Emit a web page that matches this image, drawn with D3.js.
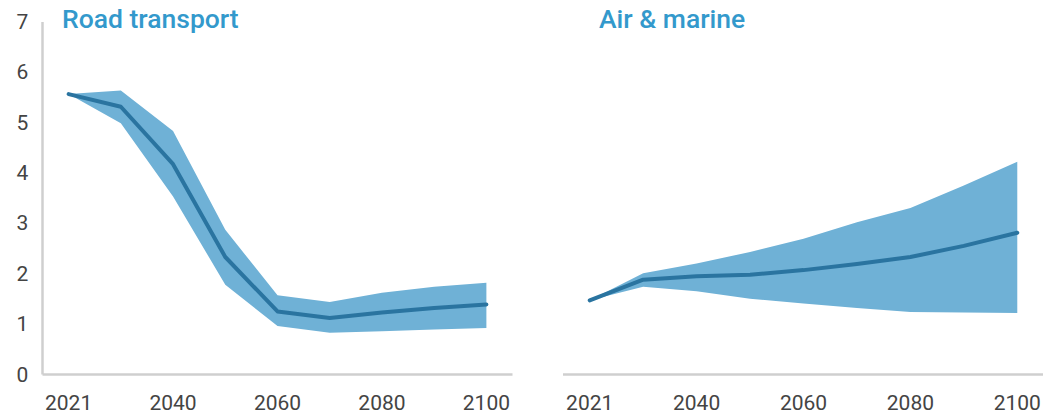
<!DOCTYPE html>
<html><head><meta charset="utf-8">
<script src="https://cdn.jsdelivr.net/npm/d3@7"></script>
<style>body{margin:0;background:#fff}svg{display:block}text{font-family:Roboto,"Open Sans",sans-serif}</style>
</head><body><svg id="c" width="1043" height="416"></svg>
<script>
const years = ["2021","2030","2040","2050","2060","2070","2080","2090","2100"];
const tickLabels = ["2021","2040","2060","2080","2100"];
const yTicks = [0,1,2,3,4,5,6,7];
const roadMid  = [5.56,5.31,4.17,2.33,1.25,1.12,1.23,1.32,1.39];
const roadHigh = [5.56,5.63,4.83,2.87,1.57,1.44,1.62,1.74,1.82];
const roadLow  = [5.56,4.98,3.53,1.78,0.96,0.83,0.86,0.89,0.92];
const airMid   = [1.47,1.88,1.95,1.98,2.07,2.19,2.33,2.55,2.81];
const airHigh  = [1.47,2.01,2.20,2.43,2.69,3.02,3.30,3.75,4.22];
const airLow   = [1.47,1.74,1.65,1.50,1.41,1.32,1.24,1.23,1.22];

const svg = d3.select("#c");
const y = d3.scaleLinear().domain([0,7]).range([374.5,21.5]);
const bandCol = "#6fb1d6", lineCol = "#2a74a0", axisCol = "#cfcfcf", textCol = "#444", titleCol = "#3399cc";

function panel(x0, x1, title, titleX, mid, hi, lo, showY){
  const x = d3.scaleBand().domain(years).range([x0,x1]);
  const cx = d => x(d)+x.bandwidth()/2;
  const g = svg.append("g");
  const idx = d3.range(years.length);
  g.append("path").datum(idx)
    .attr("fill", bandCol)
    .attr("d", d3.area().x(i=>cx(years[i])).y0(i=>y(lo[i])).y1(i=>y(hi[i])));
  g.append("path").datum(idx)
    .attr("fill","none").attr("stroke",lineCol).attr("stroke-width",4).attr("stroke-linecap","round").attr("stroke-linejoin","round")
    .attr("d", d3.line().x(i=>cx(years[i])).y(i=>y(mid[i])));
  const xa = g.append("g").attr("transform",`translate(0,${y(0)})`)
    .call(d3.axisBottom(x).tickValues(tickLabels).tickSize(0).tickPadding(28));
  xa.select(".domain").attr("stroke",axisCol).attr("stroke-width",2.5).attr("d",`M${x0},0H${x1}`);
  xa.selectAll("text").attr("fill",textCol).attr("font-size",21).attr("dy","0.35em");
  if(showY){
    const ya = g.append("g").attr("transform",`translate(${x0},0)`)
      .call(d3.axisLeft(y).tickValues(yTicks).tickFormat(d3.format("d")).tickSize(0).tickPadding(18));
    ya.select(".domain").attr("stroke",axisCol).attr("stroke-width",2.5).attr("d",`M0,${y(0)}V22`);
    ya.selectAll("text").attr("fill",textCol).attr("font-size",21).attr("text-anchor","middle").attr("dx","-0.1em");
  }
  g.append("text").attr("x",titleX).attr("y",27.5).attr("fill",titleCol)
    .attr("font-size",26.5).attr("font-weight",500).text(title);
}
panel(42.5, 512.5, "Road transport", 62, roadMid, roadHigh, roadLow, true);
panel(563, 1044, "Air & marine", 599, airMid, airHigh, airLow, false);
</script></body></html>
